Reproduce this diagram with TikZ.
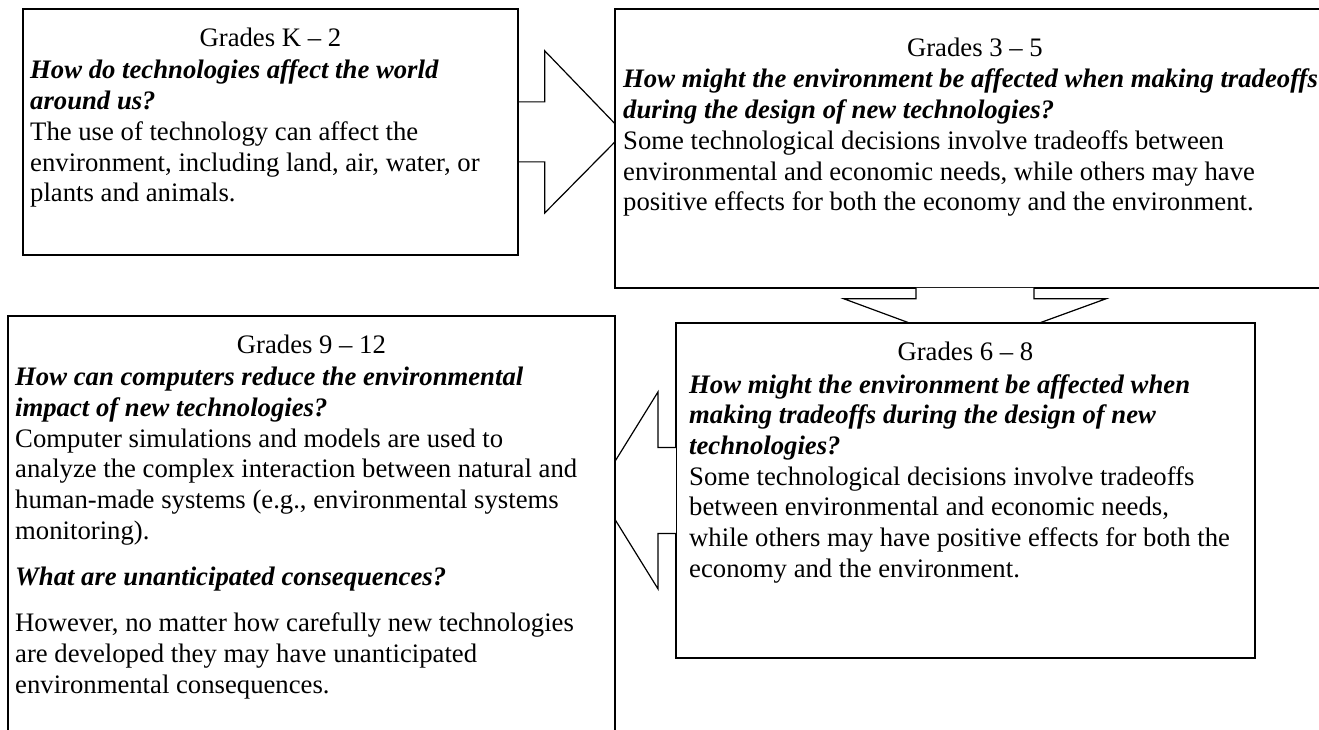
\documentclass[tikz,border=0pt]{standalone}
\usepackage{fontspec}
\setmainfont{Liberation Serif}
\usetikzlibrary{calc,positioning}
\pgfdeclarelayer{back}
\pgfsetlayers{back,main}
\tikzset{
    gradebox/.style={rectangle, draw, line width=1.8pt, fill=white, anchor=north west, inner sep=0pt},
    gradetitle/.style={anchor=north, inner sep=0pt, font=\fontsize{26.7}{30.7}\selectfont},
    gradetext/.style={anchor=north west, inner sep=0pt, align=left, font=\fontsize{26.7}{30.7}\selectfont},
    blockarrow/.style={draw, line width=1.2pt, fill=white, line join=miter}
}
\newcommand{\gradeq}[1]{\textbf{\textit{#1}}}

\begin{document}
\begin{tikzpicture}[x=1pt,y=-1pt]
    \useasboundingbox (0,0) rectangle (1319,730);
    % Grades K-2 and 3-5
    \node[gradebox, minimum width=495pt, minimum height=246pt] (k2) at (22,8) {};
    \node[gradetitle, below=20pt of k2.north] (k2title) {Grades K – 2};
    \node[gradetext, below right=52pt and 8pt of k2.north west] (k2text) {
        \gradeq{How do technologies affect the world}\\
        \gradeq{around us?}\\
        The use of technology can affect the\\
        environment, including land, air, water, or\\
        plants and animals.};
    \node[gradebox, minimum width=720pt, minimum height=279pt] (g35) at (614,8) {};
    \node[gradetitle, below=30pt of g35.north] (g35title) {Grades 3 – 5};
    \node[gradetext, below right=61pt and 9pt of g35.north west] (g35text) {
        \gradeq{How might the environment be affected when making tradeoffs}\\
        \gradeq{during the design of new technologies?}\\
        Some technological decisions involve tradeoffs between\\
        environmental and economic needs, while others may have\\
        positive effects for both the economy and the environment.};
    % arrow K-2 -> 3-5, under both boxes
    \begin{pgfonlayer}{back}
        \draw[blockarrow] ($(k2.east)+(-20,-30)$) -- ($(k2.east)+(26,-30)$)
            -- ($(k2.east)+(26,-81)$) -- ($(k2.east)+(105,1)$)
            -- ($(k2.east)+(26,81)$) -- ($(k2.east)+(26,30)$)
            -- ($(k2.east)+(-20,30)$) -- cycle;
    \end{pgfonlayer}
    % arrow 3-5 -> 6-8
    \draw[blockarrow] ($(g35.south)+(-59,-0.9)$) -- ($(g35.south)+(-59,10)$)
        -- ($(g35.south)+(-131,10)$) -- ($(g35.south)+(-1,58)$)
        -- ($(g35.south)+(131,10)$) -- ($(g35.south)+(59,10)$)
        -- ($(g35.south)+(59,-0.9)$);
    % Grades 6-8
    \node[gradebox, minimum width=579pt, minimum height=335pt] (g68) at (675,322) {};
    \node[gradetitle, below=20pt of g68.north] (g68title) {Grades 6 – 8};
    \node[gradetext, below right=52pt and 14pt of g68.north west] (g68text) {
        \gradeq{How might the environment be affected when}\\
        \gradeq{making tradeoffs during the design of new}\\
        \gradeq{technologies?}\\
        Some technological decisions involve tradeoffs\\
        between environmental and economic needs,\\
        while others may have positive effects for both the\\
        economy and the environment.};
    % arrow 6-8 -> 9-12
    \draw[blockarrow] ($(g68.west)+(0.9,-43)$) -- ($(g68.west)+(-17,-43)$)
        -- ($(g68.west)+(-17,-98.5)$) -- ($(g68.west)+(-78,0)$)
        -- ($(g68.west)+(-17,98.5)$) -- ($(g68.west)+(-17,43)$)
        -- ($(g68.west)+(0.9,43)$);
    % Grades 9-12
    \node[gradebox, minimum width=607pt, minimum height=440pt] (g912) at (7,315) {};
    \node[gradetitle, below=20pt of g912.north] (g912title) {Grades 9 – 12};
    \node[gradetext, below right=52pt and 8pt of g912.north west] (g912text) {
        \gradeq{How can computers reduce the environmental}\\
        \gradeq{impact of new technologies?}\\
        Computer simulations and models are used to\\
        analyze the complex interaction between natural and\\
        human-made systems (e.g., environmental systems\\
        monitoring).\\[16pt]
        \gradeq{What are unanticipated consequences?}\\[15pt]
        However, no matter how carefully new technologies\\
        are developed they may have unanticipated\\
        environmental consequences.};
\end{tikzpicture}
\end{document}
